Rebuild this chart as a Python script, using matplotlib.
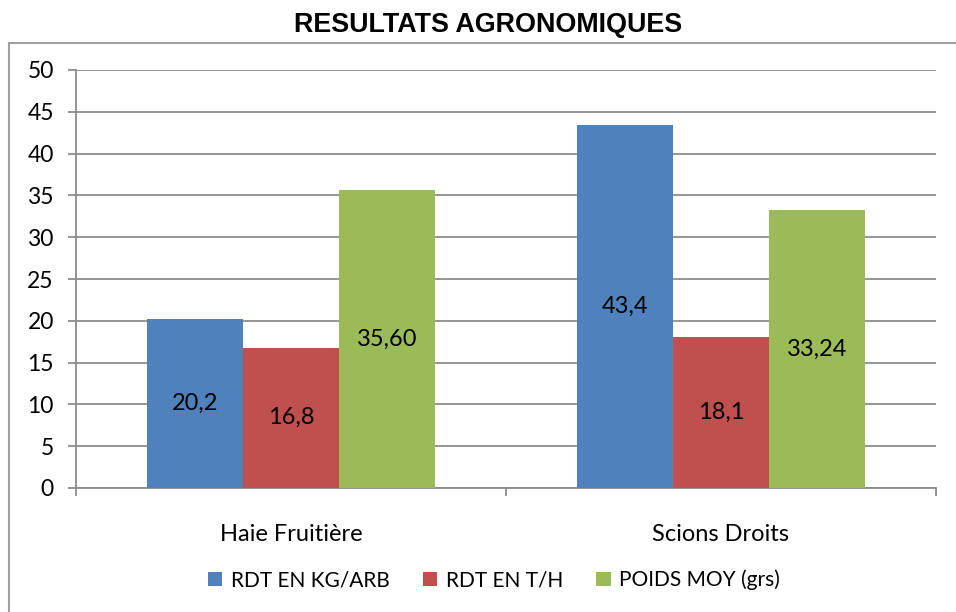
import matplotlib.pyplot as plt
import matplotlib.patches as patches
import numpy as np

# Data
categories = ['Haie Fruitière', 'Scions Droits']
series_names = ['RDT EN KG/ARB', 'RDT EN T/H', 'POIDS MOY (grs)']
rdt_kg_arb = [20.2, 43.4]
rdt_t_h = [16.8, 18.1]
poids_moy = [35.60, 33.24]
labels_kg_arb = ['20,2', '43,4']
labels_t_h = ['16,8', '18,1']
labels_poids = ['35,60', '33,24']

colors = ['#4F81BD', '#C0504D', '#9BBB59']
grid_col = '#8C8C8C'
body_font = 'Lato'

fig = plt.figure(figsize=(9.56, 6.12), dpi=100)
ax = fig.add_axes([76 / 956, 1 - 488 / 612, 860 / 956, 418 / 612])

# outer chart frame (partly cut off on right/bottom like the reference)
frame = patches.Rectangle((9 / 956, -0.05), 1.2, 1 - 43 / 612 + 0.05,
                          transform=fig.transFigure, fill=False,
                          edgecolor='#A0A0A0', lw=1.5, clip_on=False)
fig.patches.append(frame)

x = np.arange(len(categories))
width = 0.223
series = [rdt_kg_arb, rdt_t_h, poids_moy]
texts = [labels_kg_arb, labels_t_h, labels_poids]
for i, (vals, labs) in enumerate(zip(series, texts)):
    pos = x + (i - 1) * width
    bars = ax.bar(pos, vals, width, color=colors[i], label=series_names[i], zorder=3)
    for b, t in zip(bars, labs):
        ax.text(b.get_x() + b.get_width() / 2, b.get_height() / 2, t,
                ha='center', va='center', fontsize=17, family=body_font, zorder=4)

ax.set_xlim(-0.5, 1.5)
ax.set_ylim(0, 50)
ax.set_yticks(np.arange(0, 51, 5))
ax.yaxis.grid(True, color=grid_col, lw=1.3, zorder=0)

ax.set_xticks(x)
ax.set_xticklabels(categories)
ax.set_xticks([-0.5, 0.5, 1.5], minor=True)
ax.tick_params(axis='x', which='major', length=0, pad=26, labelsize=17)
ax.tick_params(axis='x', which='minor', length=6, width=1.3, color=grid_col, direction='out')
ax.tick_params(axis='y', length=6, width=1.3, color=grid_col, pad=10, labelsize=16.5)
for lab in ax.get_xticklabels() + ax.get_yticklabels():
    lab.set_family(body_font)

for s in ['top', 'right']:
    ax.spines[s].set_visible(False)
for s in ['left', 'bottom']:
    ax.spines[s].set_color(grid_col)
    ax.spines[s].set_linewidth(1.3)

fig.text(488 / 956, 1 - 25 / 612, 'RESULTATS AGRONOMIQUES', ha='center', va='center',
         fontsize=19.4, fontweight='bold', family='Liberation Sans')

ax.legend(loc='center', bbox_to_anchor=(494 / 956, 1 - 580 / 612),
          bbox_transform=fig.transFigure, ncol=3, frameon=False,
          prop={'family': body_font, 'size': 15}, handlelength=0.7, handleheight=0.7,
          columnspacing=1.6, handletextpad=0.4)

fig.savefig('out.png', dpi=100)
